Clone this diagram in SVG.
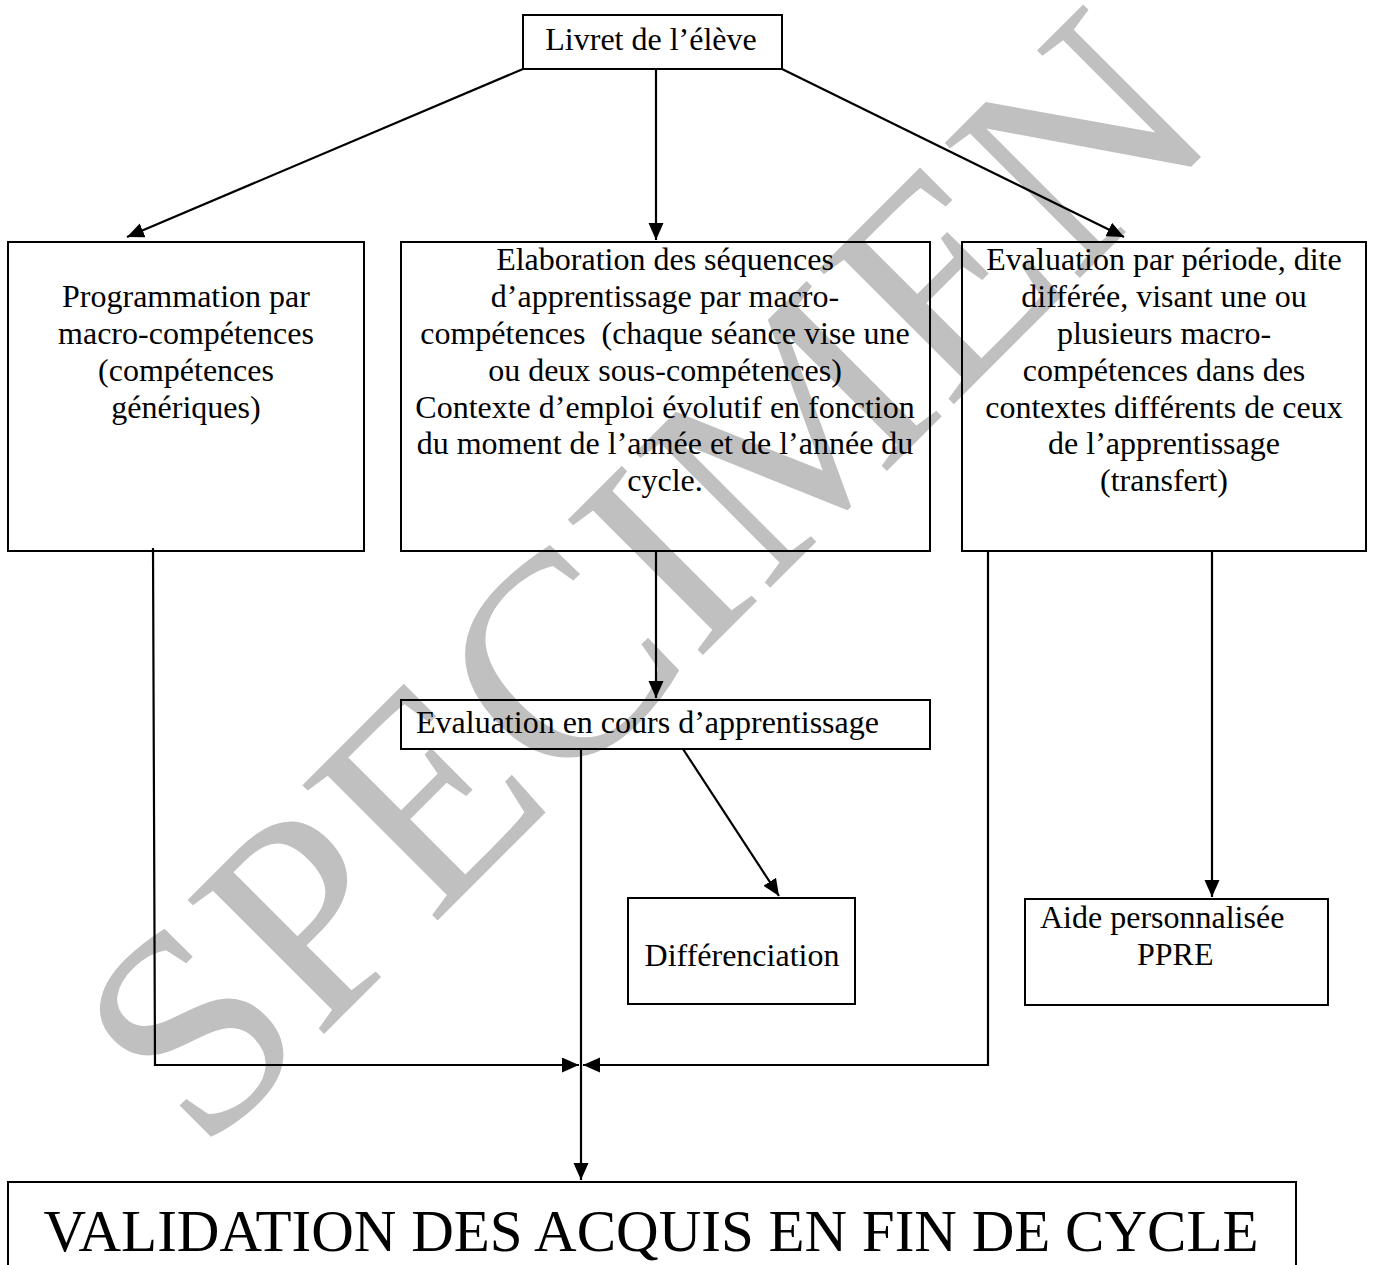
<svg xmlns="http://www.w3.org/2000/svg" width="1373" height="1265" viewBox="0 0 1373 1265">
  <style>
    .box { fill: none; stroke: #000; stroke-width: 2; }
    .t { font-family: "Liberation Serif", "Times New Roman", serif; font-size: 32px; fill: #000; }
    .c { text-anchor: middle; }
    .ln { fill: none; stroke: #000; stroke-width: 2.2; }
    .wm { font-family: "Liberation Serif", "Times New Roman", serif; font-size: 292px; fill: #c0c0c0; }
  </style>
  <defs>
    <marker id="arrow" markerUnits="userSpaceOnUse" markerWidth="20" markerHeight="16" refX="17" refY="7.5" orient="auto">
      <path d="M0,0 L17,7.5 L0,15 Z" fill="#000"/>
    </marker>
  </defs>
  <rect width="1373" height="1265" fill="#fff"/>

  <text class="wm" transform="translate(202,1156) rotate(-45)" x="0" y="0">SPECIMEN</text>

  <g id="livret">
    <rect class="box" x="523" y="15" width="259" height="54"/>
    <text class="t c" x="651" y="50">Livret de l’élève</text>
  </g>

  <g id="programmation">
    <rect class="box" x="8" y="242" width="356" height="309"/>
    <text class="t c" x="186" y="307">Programmation par</text>
    <text class="t c" x="186" y="344">macro-compétences</text>
    <text class="t c" x="186" y="381">(compétences</text>
    <text class="t c" x="186" y="418">génériques)</text>
  </g>

  <g id="elaboration">
    <rect class="box" x="401" y="242" width="529" height="309"/>
    <text class="t c" x="665" y="270">Elaboration des séquences</text>
    <text class="t c" x="665" y="307">d’apprentissage par macro-</text>
    <text class="t c" x="665" y="344" xml:space="preserve">compétences  (chaque séance vise une</text>
    <text class="t c" x="665" y="381">ou deux sous-compétences)</text>
    <text class="t c" x="665" y="418">Contexte d’emploi évolutif en fonction</text>
    <text class="t c" x="665" y="454">du moment de l’année et de l’année du</text>
    <text class="t c" x="665" y="491">cycle.</text>
  </g>

  <g id="evaluation-periode">
    <rect class="box" x="962" y="242" width="404" height="309"/>
    <text class="t c" x="1164" y="270">Evaluation par période, dite</text>
    <text class="t c" x="1164" y="307">différée, visant une ou</text>
    <text class="t c" x="1164" y="344">plusieurs macro-</text>
    <text class="t c" x="1164" y="381">compétences dans des</text>
    <text class="t c" x="1164" y="418">contextes différents de ceux</text>
    <text class="t c" x="1164" y="454">de l’apprentissage</text>
    <text class="t c" x="1164" y="491">(transfert)</text>
  </g>

  <g id="evaluation-cours">
    <rect class="box" x="401" y="700" width="529" height="49"/>
    <text class="t" x="416" y="733">Evaluation en cours d’apprentissage</text>
  </g>

  <g id="differenciation">
    <rect class="box" x="628" y="898" width="227" height="106"/>
    <text class="t c" x="742" y="966">Différenciation</text>
  </g>

  <g id="aide">
    <rect class="box" x="1025" y="899" width="303" height="106"/>
    <text class="t" x="1040" y="928">Aide personnalisée</text>
    <text class="t" x="1137" y="965">PPRE</text>
  </g>

  <g id="validation">
    <rect class="box" x="8" y="1182" width="1288" height="100"/>
    <text class="t c" x="651" y="1251" style="font-size:59px">VALIDATION DES ACQUIS EN FIN DE CYCLE</text>
  </g>

  <g id="connectors">
    <line class="ln" x1="523" y1="69" x2="127" y2="237" marker-end="url(#arrow)"/>
    <line class="ln" x1="656" y1="69" x2="656" y2="240" marker-end="url(#arrow)"/>
    <line class="ln" x1="782" y1="69" x2="1124" y2="237" marker-end="url(#arrow)"/>
    <line class="ln" x1="656" y1="551" x2="656" y2="698" marker-end="url(#arrow)"/>
    <line class="ln" x1="683" y1="749" x2="779" y2="896" marker-end="url(#arrow)"/>
    <line class="ln" x1="1212" y1="551" x2="1212" y2="897" marker-end="url(#arrow)"/>
    <polyline class="ln" points="153,548 155,1065 579,1065" marker-end="url(#arrow)"/>
    <polyline class="ln" points="988,551 988,1065 583,1065" marker-end="url(#arrow)"/>
    <line class="ln" x1="581" y1="749" x2="581" y2="1180" marker-end="url(#arrow)"/>
  </g>
</svg>
